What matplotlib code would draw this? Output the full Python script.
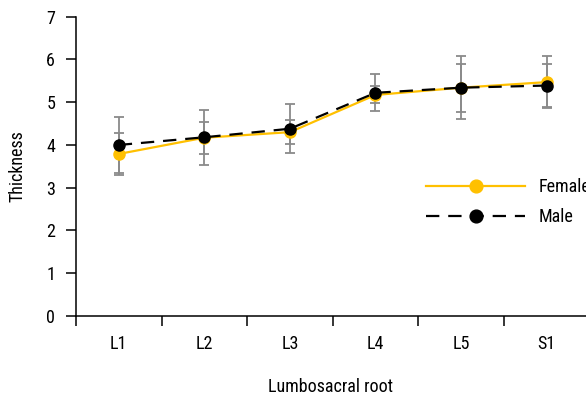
import matplotlib
matplotlib.use("Agg")
import matplotlib.pyplot as plt

categories = ["L1", "L2", "L3", "L4", "L5", "S1"]
female_mean = [3.79, 4.17, 4.30, 5.17, 5.34, 5.47]
female_sd = [0.50, 0.37, 0.28, 0.20, 0.56, 0.61]
male_mean = [4.00, 4.18, 4.38, 5.22, 5.34, 5.39]
male_sd = [0.65, 0.64, 0.57, 0.43, 0.74, 0.50]
yticks = [0, 1, 2, 3, 4, 5, 6, 7]

plt.rcParams["font.family"] = ["Roboto Condensed", "Liberation Sans", "DejaVu Sans"]
FS = 13

fig = plt.figure(figsize=(5.86, 3.98), dpi=100)
ax = fig.add_axes([76 / 586, 1 - 316 / 398, 1 - 76 / 586, (316 - 16.7) / 398])

x = list(range(len(categories)))
err_color = "#8a8a8a"
female_color = "#FFC000"

ax.errorbar(x, female_mean, yerr=female_sd, fmt="none", ecolor=err_color,
            elinewidth=1.3, capsize=3.8, capthick=1.3, zorder=1)
ax.errorbar(x, male_mean, yerr=male_sd, fmt="none", ecolor=err_color,
            elinewidth=1.3, capsize=3.8, capthick=1.3, zorder=1)

ax.plot(x, female_mean, color=female_color, lw=1.6, marker="o", ms=8,
        mec=female_color, mfc=female_color, label="Female", zorder=3)
ax.plot(x, male_mean, color="black", lw=1.6, ls=(0, (6, 4)), marker="o", ms=8,
        mec="black", mfc="black", label="Male", zorder=4)

ax.set_xlim(-0.5, 5.46)
ax.set_ylim(0, 7)
ax.set_yticks(yticks)
ax.set_xticks([i - 0.5 for i in range(len(categories))])
ax.set_xticklabels([])
ax.set_xticks(x, minor=True)
ax.set_xticklabels(categories, minor=True)
ax.tick_params(axis="x", which="minor", length=0, pad=14, labelsize=FS)
ax.tick_params(axis="x", which="major", length=7, width=1.1, direction="out")
ax.tick_params(axis="y", length=7, width=1.1, direction="out", labelsize=FS, pad=8)

for s in ["top", "right"]:
    ax.spines[s].set_visible(False)
for s in ["left", "bottom"]:
    ax.spines[s].set_linewidth(1.1)

ax.set_xlabel("Lumbosacral root", fontsize=FS, labelpad=18)
ax.set_ylabel("Thickness", fontsize=FS, labelpad=14)

leg = ax.legend(loc="center left", bbox_to_anchor=(0.655, 0.38), frameon=False,
                handlelength=5.45, fontsize=FS, labelspacing=0.65, handletextpad=0.75,
                markerscale=1.15)

fig.savefig("out.png", dpi=100)
